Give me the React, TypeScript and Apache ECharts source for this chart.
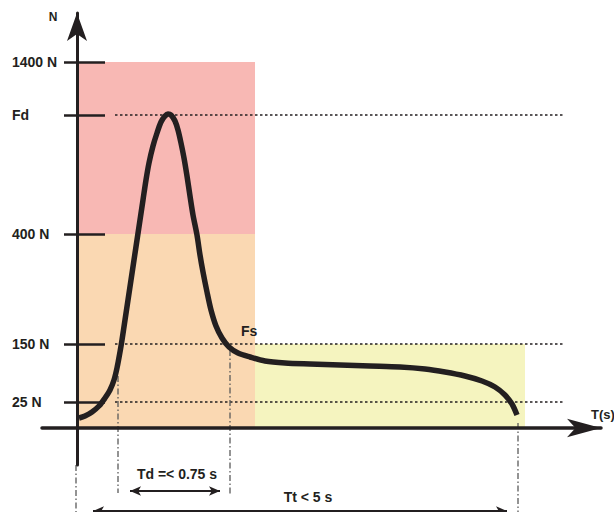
import React, { useEffect, useRef } from 'react';
import * as echarts from 'echarts';

// Schematic force/time diagram (axis units are schematic, not proportional)
const levelLabels = ['25 N', '150 N', '400 N', 'Fd', '1400 N'];
const levelHeights = [26, 84, 194, 313, 366];

// Force curve (schematic time, schematic force height)
const curveTimes = [2, 8, 15, 22, 28, 33, 37, 40, 43, 45, 48, 51, 54, 57, 60, 63, 66, 69, 72, 76, 80, 84, 88, 91, 94, 98, 101, 104, 107, 110, 113, 116, 120, 123, 126, 130, 134, 139, 145, 152, 161, 173, 188, 208, 233, 263, 293, 323, 348, 368, 388, 405, 418, 428, 435, 440];
const curveForces = [10, 12, 16, 22, 30, 38, 48, 60, 76, 88, 108, 128, 148, 168, 188, 208, 228, 248, 265, 282, 295, 306, 312, 314, 313, 307, 298, 285, 270, 252, 232, 213, 193, 173, 156, 136, 118, 102, 90, 81, 75, 71, 67, 65, 64, 63, 62, 61, 59, 56, 52, 47, 41, 33, 24, 13];

// Coloured zones: [t0, f0, t1, f1]
const zoneT0 = [0, 0, 178];
const zoneF0 = [194, 0, 0];
const zoneT1 = [178, 178, 448];
const zoneF1 = [366, 194, 84];
const zoneColors = ['#F8B8B4', '#FAD8B2', '#F5F4BF'];

// Dotted horizontal guides
const guideLevels = [313, 84, 26];
const guideStart = 38;
const guideEnd = 488;

// Dash-dot vertical guides
const vGuideT = [41, 153, -1, 441];
const vGuideTop = [52, 78, -37, 5];
const vGuideBottom = [-65, -67, -84, -84];

// Dimension arrows
const tdSpan = [53, 143];
const tdLevel = -63;
const ttSpan = [16, 430];
const ttLevel = -83;

const INK = '#231f20';
const FONT = '"Liberation Sans", Arial, sans-serif';

export default function App() {
  const ref = useRef<HTMLDivElement>(null);
  useEffect(() => {
    if (!ref.current) return;
    const chart = echarts.init(ref.current, undefined, { renderer: 'svg' });

    const series: any[] = [];
    series.push({
      type: 'custom',
      z: 1,
      silent: true,
      data: zoneT0.map((t, i) => [t, zoneF0[i], zoneT1[i], zoneF1[i]]),
      encode: { x: [0, 2], y: [1, 3] },
      renderItem: (params: any, api: any) => {
        const p0 = api.coord([api.value(0), api.value(1)]);
        const p1 = api.coord([api.value(2), api.value(3)]);
        return {
          type: 'rect',
          shape: { x: p0[0], y: p1[1], width: p1[0] - p0[0], height: p0[1] - p1[1] },
          style: { fill: zoneColors[params.dataIndex] },
        };
      },
    });
    guideLevels.forEach((lv) => {
      series.push({
        type: 'line', z: 2, silent: true, clip: false, symbol: 'none',
        data: [[guideStart, lv], [guideEnd, lv]],
        lineStyle: { color: INK, width: 1.6, type: [2.5, 2.5] },
      });
    });
    vGuideT.forEach((t, i) => {
      series.push({
        type: 'line', z: 2, silent: true, clip: false, symbol: 'none',
        data: [[t, vGuideTop[i]], [t, vGuideBottom[i]]],
        lineStyle: { color: '#5a5a5a', width: 1.3, type: [6, 2.5, 1.5, 2.5] },
      });
    });
    const arrow = (span: number[], lv: number) => ({
      type: 'line', z: 3, silent: true, clip: false,
      symbol: 'arrow', symbolSize: [7, 11],
      data: [
        { value: [span[0], lv], symbolRotate: 90 },
        { value: [span[1], lv], symbolRotate: -90 },
      ],
      itemStyle: { color: INK },
      lineStyle: { color: INK, width: 2 },
    });
    series.push(arrow(tdSpan, tdLevel));
    series.push(arrow(ttSpan, ttLevel));
    series.push({
      type: 'line', z: 4, silent: true, clip: false, symbol: 'none', smooth: 0.3,
      data: curveTimes.map((t, i) => [t, curveForces[i]]),
      lineStyle: { color: INK, width: 5.5, cap: 'butt', join: 'round' },
    });

    const textStyle = (text: string, size: number) => ({
      text, fill: INK, font: `bold ${size}px ${FONT}`,
    });

    chart.setOption({
      animation: false,
      backgroundColor: '#ffffff',
      grid: { left: 42, right: 13, top: 13, bottom: 47, containLabel: false, outerBoundsMode: 'none' },
      xAxis: {
        type: 'value', min: -35, max: 524, z: 5,
        axisLine: {
          onZero: true, onZeroAxisIndex: 0,
          lineStyle: { color: INK, width: 3.5 },
          symbol: ['none', 'arrow'], symbolSize: [14, 34],
        },
        axisTick: { show: false }, axisLabel: { show: false }, splitLine: { show: false },
      },
      yAxis: [
        {
          type: 'value', min: -37, max: 415, z: 5, position: 'left',
          axisLine: {
            onZero: true, onZeroAxisIndex: 0,
            lineStyle: { color: INK, width: 3 },
            symbol: ['none', 'arrow'], symbolSize: [15, 28],
          },
          axisTick: {
            show: true, inside: false, length: 13, customValues: levelHeights,
            lineStyle: { color: INK, width: 2.5 },
          },
          axisLabel: {
            show: true, customValues: levelHeights, margin: 30, align: 'left',
            formatter: (v: number) => levelLabels[levelHeights.indexOf(v)] ?? '',
            color: INK, fontWeight: 'bold', fontSize: 14, fontFamily: FONT,
          },
          splitLine: { show: false },
        },
        {
          type: 'value', min: -37, max: 415, z: 5, position: 'left',
          axisLine: { show: false, onZero: true, onZeroAxisIndex: 0 },
          axisTick: {
            show: true, inside: true, length: 28, customValues: levelHeights,
            lineStyle: { color: INK, width: 2.5 },
          },
          axisLabel: { show: false },
          splitLine: { show: false },
        },
      ],
      series,
      graphic: [
        { type: 'text', z: 20, x: 53, y: 17, style: { ...textStyle('N', 12), align: 'center', verticalAlign: 'middle' } },
        { type: 'text', z: 20, x: 591, y: 414, style: { ...textStyle('T(s)', 13), align: 'left', verticalAlign: 'middle' } },
        { type: 'text', z: 20, x: 241, y: 331, style: { ...textStyle('Fs', 14), align: 'left', verticalAlign: 'middle' } },
        { type: 'text', z: 20, x: 177, y: 474, style: { ...textStyle('Td =< 0.75 s', 14), align: 'center', verticalAlign: 'middle' } },
        { type: 'text', z: 20, x: 308, y: 497, style: { ...textStyle('Tt < 5 s', 14), align: 'center', verticalAlign: 'middle' } },
      ],
    });
    return () => chart.dispose();
  }, []);
  return <div ref={ref} style={{ position: 'absolute', left: 0, top: 0, width: 614, height: 512 }} />;
}
